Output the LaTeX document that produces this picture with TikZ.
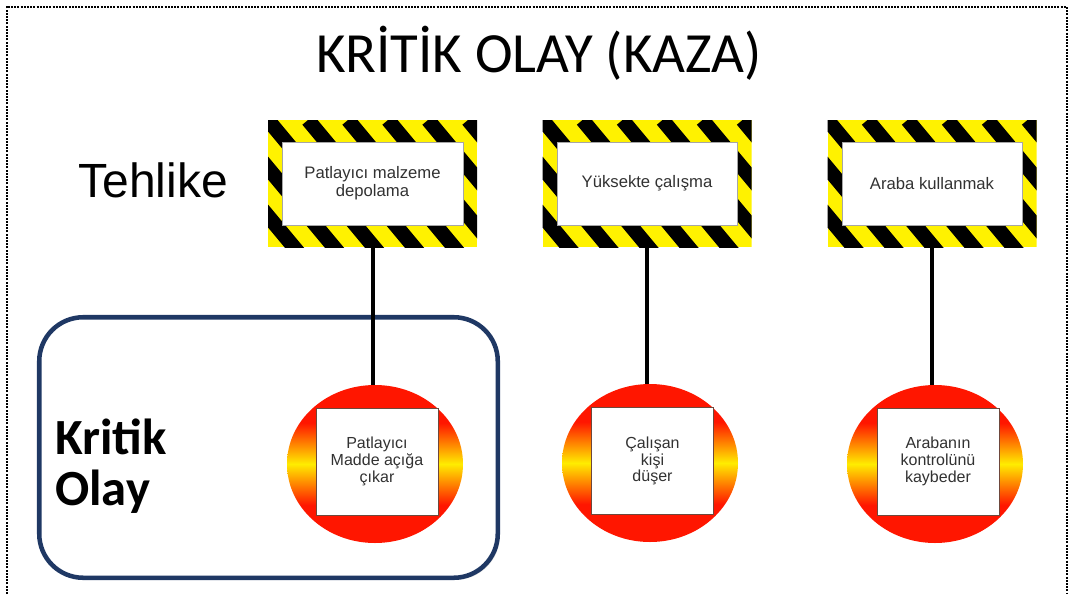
\documentclass[tikz,border=0pt]{standalone}
\usepackage{fontspec}
\setmainfont{Liberation Sans}
\newfontfamily\calibrifont{Carlito}
\usetikzlibrary{calc,shapes.geometric,shadows}

\definecolor{fireRed}{RGB}{255,22,0}
\definecolor{fireYellow}{RGB}{255,236,0}
\definecolor{hazYellow}{RGB}{255,242,0}
\definecolor{groupNavy}{RGB}{31,56,100}
\definecolor{textGray}{RGB}{50,50,50}
\definecolor{edgeBrown}{RGB}{110,72,60}

% red at top and bottom, yellow across the middle
\pgfdeclareverticalshading{fireball}{100bp}{color(0bp)=(fireRed); color(37bp)=(fireRed); color(50bp)=(fireYellow); color(63bp)=(fireRed); color(100bp)=(fireRed)}

\begin{document}
\begin{tikzpicture}[x=0.75pt,y=-0.75pt,
  frame/.style={draw=black, line width=1.5pt, dash pattern=on 1.5pt off 0.9pt},
  hazard/.style={rectangle, minimum width=156.75pt, minimum height=95.25pt,
    inner sep=0pt, align=center, text=textGray,
    font=\fontsize{12.5pt}{13.5pt}\selectfont,
    path picture={
      \fill[hazYellow] (path picture bounding box.south west) rectangle (path picture bounding box.north east);
      \foreach \k in {-5,...,8}
        \draw[line width=11pt, black] ($(path picture bounding box.north west)+(\k*30pt,0pt)$) -- ++(100pt,-120pt);
      \filldraw[fill=white, draw=gray!70, line width=0.5pt]
        ($(path picture bounding box.south west)+(11pt,16.5pt)$) rectangle
        ($(path picture bounding box.north east)+(-10.5pt,-16.5pt)$);
    }},
  eventring/.style={ellipse, minimum width=132pt, minimum height=118.5pt,
    inner sep=0pt, shading=fireball},
  eventbox/.style={rectangle, minimum width=91.5pt, minimum height=80.25pt,
    inner sep=0pt, fill=white, draw=edgeBrown, line width=0.6pt,
    align=center, text=textGray, font=\fontsize{12pt}{12.6pt}\selectfont},
  link/.style={draw=black, line width=3pt},
  group/.style={rectangle, rounded corners=33pt, draw=groupNavy, line width=3.4pt,
    fill=white, minimum width=343.9pt, minimum height=195.4pt, inner sep=0pt,
    drop shadow={opacity=0.3, shadow xshift=1.5pt, shadow yshift=-1.5pt}}
]
\useasboundingbox (0,0) rectangle (1068,594);

% dotted page frame (open at the bottom)
\draw[frame] (6.5,594) -- (6.5,6.5) -- (1066.5,6.5) -- (1066.5,594);

% group around the first critical event
\node[group] (grp) at (268.5,447.5) {};

% headings
\node[anchor=base, inner sep=0pt, font=\calibrifont\fontsize{42.6pt}{42pt}\selectfont] (title) at (539,72) {KRİTİK OLAY (KAZA)};
\node[anchor=base west, inner sep=0pt, font=\fontsize{36pt}{38pt}\selectfont] (hazlabel) at (78,197) {Tehlike};
\node[anchor=base west, inner sep=0pt, font=\calibrifont\bfseries\fontsize{38pt}{40pt}\selectfont] (critA) at (55,454) {Kritik};
\node[anchor=base west, inner sep=0pt, font=\calibrifont\bfseries\fontsize{38pt}{40pt}\selectfont] (critB) at (55,505) {Olay};

% hazards
\node[hazard] (hz1) at (372.5,183.5) {Patlayıcı malzeme\\depolama};
\node[hazard] (hz2) at (647,183.5) {Yüksekte çalışma};
\node[hazard] (hz3) at (932,183.5) {Araba kullanmak};

% critical events
\node[eventring] (ev1) at (375,464) {};
\node[eventring] (ev2) at (650,463) {};
\node[eventring] (ev3) at (935,464) {};

\draw[link] (hz1.south) -- (hz1.south |- ev1.north);
\draw[link] (hz2.south) -- (hz2.south |- ev2.north);
\draw[link] (hz3.south) -- (hz3.south |- ev3.north);

\node[eventbox] (evt1) at (377,461.5) {Patlayıcı\\Madde açığa\\çıkar};
\node[eventbox] (evt2) at (652.5,461) {Çalışan\\kişi\\düşer};
\node[eventbox] (evt3) at (938,461.5) {Arabanın\\kontrolünü\\kaybeder};
\end{tikzpicture}
\end{document}
